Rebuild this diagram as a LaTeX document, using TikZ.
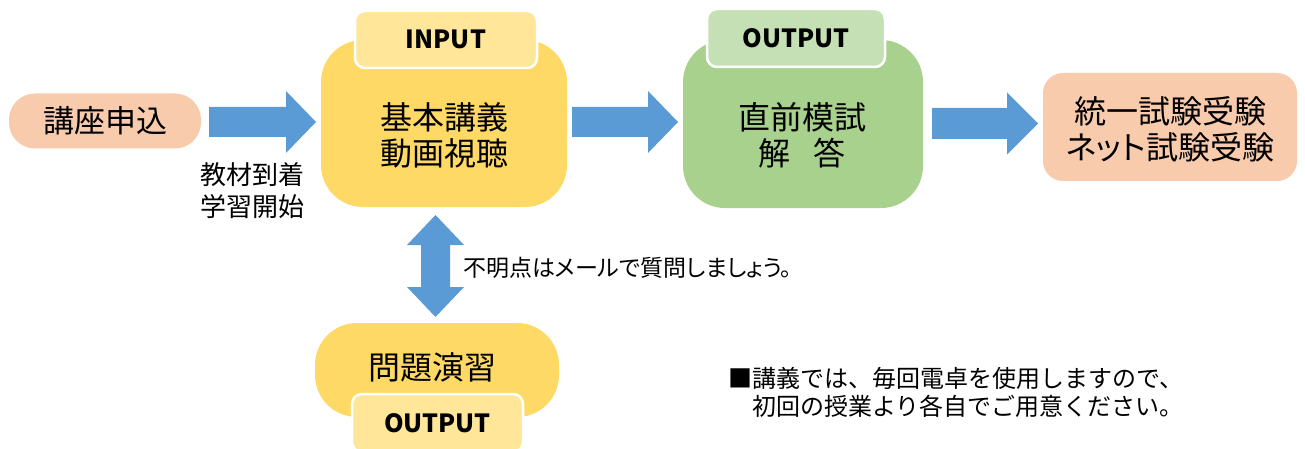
\documentclass[tikz,border=0pt]{standalone}
\usepackage{fontspec}
\setmainfont{Noto Sans CJK JP}[RawFeature=+palt]
\newfontfamily\plainjp{Noto Sans CJK JP}
\definecolor{arrowblue}{HTML}{5B9BD5}
\definecolor{peach}{HTML}{F8CBAD}
\definecolor{yel}{HTML}{FFD966}
\definecolor{lyel}{HTML}{FFE699}
\definecolor{grn}{HTML}{A9D18E}
\definecolor{lgrn}{HTML}{C5E0B4}
\begin{document}
\begin{tikzpicture}[x=1pt,y=-1pt,
  box/.style={draw=none,inner sep=0pt,outer sep=0pt},
  tab/.style={draw=white,line width=2.5pt,rounded corners=10pt,inner sep=0pt,
     font=\fontsize{25}{28}\selectfont\bfseries},
  big/.style={inner sep=0pt,align=center,font=\fontsize{32}{36}\selectfont},
  small/.style={inner sep=0pt,align=left,font=\fontsize{23}{28}\selectfont},
  blockarrow/.style={fill=arrowblue,draw=none}]
\useasboundingbox (0,0) rectangle (1305,449);
% boxes
\node[box,fill=peach,rounded corners=26pt,minimum width=192pt,minimum height=55pt,
  font=\fontsize{31}{36}\selectfont] (apply) at (105,121) {講座申込};
\node[box,fill=yel,rounded corners=42pt,minimum width=246pt,minimum height=167pt] (inbox) at (444,123.5) {};
\node[tab,fill=lyel,minimum width=182pt,minimum height=57pt] (intab) at (446,39.5) {INPUT};
\node[big] (intext) at (444,135) {基本講義\\動画視聴};
\node[box,fill=grn,rounded corners=42pt,minimum width=240pt,minimum height=168pt] (mock) at (803,124) {};
\node[tab,fill=lgrn,minimum width=178pt,minimum height=58pt] (mocktab) at (796,38) {OUTPUT};
\node[big] (mocktext) at (802,135.5) {直前模試\\解\hspace{0.72em}答};
\node[box,fill=peach,rounded corners=20pt,minimum width=254pt,minimum height=108pt] (exam) at (1170,127) {};
\node[big] (examtext) at (1170,129.5) {統一試験受験\\ネット試験受験};
\node[box,fill=yel,rounded corners=42pt,minimum width=244pt,minimum height=94pt] (drill) at (437,370) {};
\node[big] (drilltext) at (432,367) {問題演習};
\node[tab,fill=lyel,minimum width=171pt,minimum height=58pt] (drilltab) at (437.5,423) {OUTPUT};
% texts
\node[inner sep=0pt,align=left,font=\fontsize{26}{32}\selectfont] (start) at (252.5,191) {教材到着\\学習開始};
\node[small,anchor=west] (question) at (463,268) {不明点はメールで質問しましょう。};
\node[inner sep=0pt,align=left,anchor=north west,font=\plainjp\fontsize{24}{28.5}\selectfont] (note) at (728,367) {■講義では、毎回電卓を使用しますので、\\\hspace*{24pt}初回の授業より各自でご用意ください。};
% arrows
\fill[blockarrow] (209,107) -- (286,107) -- (286,91) -- (316,122) -- (286,153) -- (286,137) -- (209,137) -- cycle;
\fill[blockarrow] (572,107) -- (648,107) -- (648,91) -- (678,122) -- (648,153) -- (648,137) -- (572,137) -- cycle;
\fill[blockarrow] (932,108) -- (1007,108) -- (1007,92.5) -- (1038,123.5) -- (1007,154.5) -- (1007,139) -- (932,139) -- cycle;
\fill[blockarrow] (435.5,215) -- (464,245) -- (450,245) -- (450,287) -- (464,287) -- (435.5,317)
  -- (407,287) -- (421,287) -- (421,245) -- (407,245) -- cycle;
\end{tikzpicture}
\end{document}
